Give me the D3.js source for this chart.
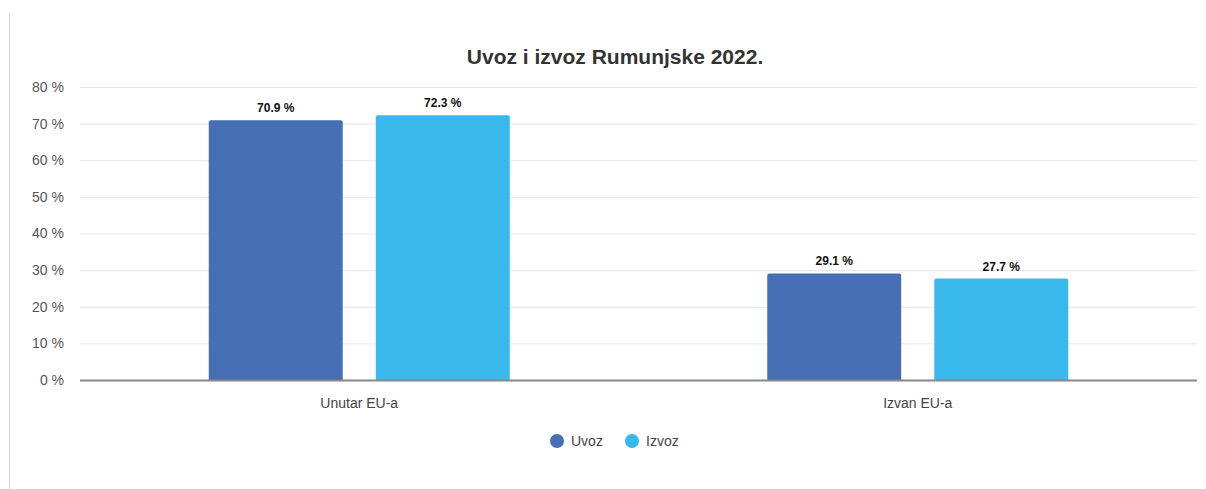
<!DOCTYPE html>
<html>
<head>
<meta charset="utf-8">
<script src="https://cdn.jsdelivr.net/npm/d3@7"></script>
<style>
  body { margin: 0; background: #fff; font-family: "Liberation Sans", Arial, sans-serif; }
  #chart svg { display: block; }
</style>
</head>
<body>
<div id="chart"></div>
<script>
// Chart data
const categories = ["Unutar EU-a", "Izvan EU-a"];
const seriesNames = ["Uvoz", "Izvoz"];
const uvozValues = [70.9, 29.1];
const izvozValues = [72.3, 27.7];
const yTicks = [0, 10, 20, 30, 40, 50, 60, 70, 80];
const colors = ["#466fb5", "#39b9eb"];

const W = 1206, H = 489;
const margin = { top: 87, right: 9, bottom: 109, left: 80 };
const width = W - margin.left - margin.right,
      height = H - margin.top - margin.bottom;

const svg = d3.select("#chart").append("svg")
    .attr("width", W)
    .attr("height", H);

// left frame line
svg.append("line")
    .attr("x1", 9.5).attr("x2", 9.5)
    .attr("y1", 14).attr("y2", H)
    .attr("stroke", "#d6d6d6").attr("stroke-width", 1);

// Title
svg.append("text")
    .attr("x", 615)
    .attr("y", 64)
    .attr("text-anchor", "middle")
    .attr("font-size", 21)
    .attr("font-weight", "bold")
    .attr("fill", "#333")
    .text("Uvoz i izvoz Rumunjske 2022.");

const g = svg.append("g")
    .attr("transform", `translate(${margin.left},${margin.top})`);

const data = categories.map((c, i) => ({
    category: c,
    values: [
        { name: seriesNames[0], value: uvozValues[i] },
        { name: seriesNames[1], value: izvozValues[i] }
    ]
}));

const x0 = d3.scaleBand().domain(categories).range([0, width]).paddingInner(0).paddingOuter(0);
const x1 = d3.scaleBand().domain(seriesNames).range([0, 301]).paddingInner(0.198);
const y = d3.scaleLinear().domain([0, 80]).range([height, 0]);
const color = d3.scaleOrdinal().domain(seriesNames).range(colors);

// grid lines
g.selectAll(".grid")
    .data(yTicks.filter(t => t > 0))
    .enter().append("line")
    .attr("class", "grid")
    .attr("x1", 0).attr("x2", width)
    .attr("y1", d => y(d) + 0.5).attr("y2", d => y(d) + 0.5)
    .attr("stroke", "#e6e6e6").attr("stroke-width", 1);

// y axis labels
const yAxis = d3.axisLeft(y).tickValues(yTicks).tickSize(0).tickPadding(16).tickFormat(d => d + " %");
const yAxisGroup = g.append("g").call(yAxis);
yAxisGroup.select(".domain").remove();
yAxisGroup.selectAll("text")
    .attr("font-size", 14)
    .attr("fill", "#555")
    .attr("font-family", "\"Liberation Sans\", Arial, sans-serif");

// bars
const groups = g.selectAll(".cat")
    .data(data)
    .enter().append("g")
    .attr("class", "cat")
    .attr("transform", d => `translate(${x0(d.category) + (x0.bandwidth() - 301) / 2},0)`);

groups.selectAll("path")
    .data(d => d.values)
    .enter().append("path")
    .attr("fill", d => color(d.name))
    .attr("d", d => {
        const bx = x1(d.name), bw = x1.bandwidth(), by = y(d.value), bh = height - by, r = 2;
        return `M${bx},${by + bh} V${by + r} Q${bx},${by} ${bx + r},${by} H${bx + bw - r} Q${bx + bw},${by} ${bx + bw},${by + r} V${by + bh} Z`;
    });

groups.selectAll(".lbl")
    .data(d => d.values)
    .enter().append("text")
    .attr("class", "lbl")
    .attr("x", d => x1(d.name) + x1.bandwidth() / 2)
    .attr("y", d => y(d.value) - 8)
    .attr("text-anchor", "middle")
    .attr("font-size", 12)
    .attr("font-weight", "bold")
    .attr("fill", "#111")
    .text(d => d.value.toFixed(1) + " %");

// x axis
const xAxis = d3.axisBottom(x0).tickSize(0).tickPadding(18);
const xAxisGroup = g.append("g")
    .attr("transform", `translate(0,${height})`)
    .call(xAxis);
xAxisGroup.select(".domain").remove();
xAxisGroup.selectAll("text")
    .attr("font-size", 14)
    .attr("fill", "#444")
    .attr("font-family", "\"Liberation Sans\", Arial, sans-serif");
g.append("line")
    .attr("x1", 0).attr("x2", width)
    .attr("y1", height + 0.5).attr("y2", height + 0.5)
    .attr("stroke", "#888").attr("stroke-width", 2);

// legend
const legendX = [557, 632];
const legend = svg.selectAll(".legend")
    .data(seriesNames)
    .enter().append("g")
    .attr("class", "legend")
    .attr("transform", (d, i) => `translate(${legendX[i]},441)`);
legend.append("circle")
    .attr("r", 7)
    .attr("fill", d => color(d));
legend.append("text")
    .attr("x", 14)
    .attr("dy", "0.35em")
    .attr("font-size", 14)
    .attr("fill", "#444")
    .text(d => d);
</script>
</body>
</html>
